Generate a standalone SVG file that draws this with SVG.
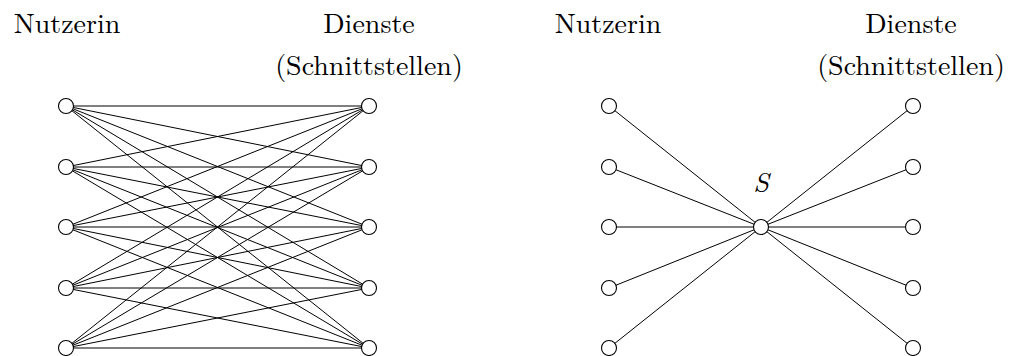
<svg xmlns="http://www.w3.org/2000/svg" width="1009" height="356" viewBox="0 0 1009 356">
  <style>
    .lbl { font-family: "Latin Modern Roman", "Liberation Serif", "DejaVu Serif", serif; font-size: 28px; fill: #000; text-anchor: middle; }
    .math { font-style: italic; }
    .edge { stroke: #000; stroke-width: 1; fill: none; }
    .node { fill: #fff; stroke: #000; stroke-width: 1.1; }
  </style>
  <rect width="1009" height="356" fill="#fff"/>

  <!-- column headings -->
  <g id="labels">
    <text class="lbl" x="67" y="33">Nutzerin</text>
    <text class="lbl" x="369" y="33">Dienste</text>
    <text class="lbl" x="369" y="75">(Schnittstellen)</text>
    <text class="lbl" x="608" y="33">Nutzerin</text>
    <text class="lbl" x="911" y="33">Dienste</text>
    <text class="lbl" x="911" y="75">(Schnittstellen)</text>
    <text class="lbl math" x="761" y="192">S</text>
  </g>

  <!-- connectors -->
  <g id="connectors" class="edge">
    <!-- left: every user to every service -->
    <path d="M66 106L369 106M66 106L369 167M66 106L369 227M66 106L369 288M66 106L369 348"/>
    <path d="M66 167L369 106M66 167L369 167M66 167L369 227M66 167L369 288M66 167L369 348"/>
    <path d="M66 227L369 106M66 227L369 167M66 227L369 227M66 227L369 288M66 227L369 348"/>
    <path d="M66 288L369 106M66 288L369 167M66 288L369 227M66 288L369 288M66 288L369 348"/>
    <path d="M66 348L369 106M66 348L369 167M66 348L369 227M66 348L369 288M66 348L369 348"/>
    <!-- right: everything through S -->
    <path d="M609 106L761 227M609 167L761 227M609 227L761 227M609 288L761 227M609 348L761 227"/>
    <path d="M761 227L913 106M761 227L913 167M761 227L913 227M761 227L913 288M761 227L913 348"/>
  </g>

  <!-- left graph nodes -->
  <g id="u1"><circle class="node" cx="66" cy="106" r="7.5"/></g>
  <g id="u2"><circle class="node" cx="66" cy="167" r="7.5"/></g>
  <g id="u3"><circle class="node" cx="66" cy="227" r="7.5"/></g>
  <g id="u4"><circle class="node" cx="66" cy="288" r="7.5"/></g>
  <g id="u5"><circle class="node" cx="66" cy="348" r="7.5"/></g>
  <g id="d1"><circle class="node" cx="369" cy="106" r="7.5"/></g>
  <g id="d2"><circle class="node" cx="369" cy="167" r="7.5"/></g>
  <g id="d3"><circle class="node" cx="369" cy="227" r="7.5"/></g>
  <g id="d4"><circle class="node" cx="369" cy="288" r="7.5"/></g>
  <g id="d5"><circle class="node" cx="369" cy="348" r="7.5"/></g>

  <!-- right graph nodes -->
  <g id="su1"><circle class="node" cx="609" cy="106" r="7.5"/></g>
  <g id="su2"><circle class="node" cx="609" cy="167" r="7.5"/></g>
  <g id="su3"><circle class="node" cx="609" cy="227" r="7.5"/></g>
  <g id="su4"><circle class="node" cx="609" cy="288" r="7.5"/></g>
  <g id="su5"><circle class="node" cx="609" cy="348" r="7.5"/></g>
  <g id="S"><circle class="node" cx="761" cy="227" r="7.5"/></g>
  <g id="sd1"><circle class="node" cx="913" cy="106" r="7.5"/></g>
  <g id="sd2"><circle class="node" cx="913" cy="167" r="7.5"/></g>
  <g id="sd3"><circle class="node" cx="913" cy="227" r="7.5"/></g>
  <g id="sd4"><circle class="node" cx="913" cy="288" r="7.5"/></g>
  <g id="sd5"><circle class="node" cx="913" cy="348" r="7.5"/></g>
</svg>
